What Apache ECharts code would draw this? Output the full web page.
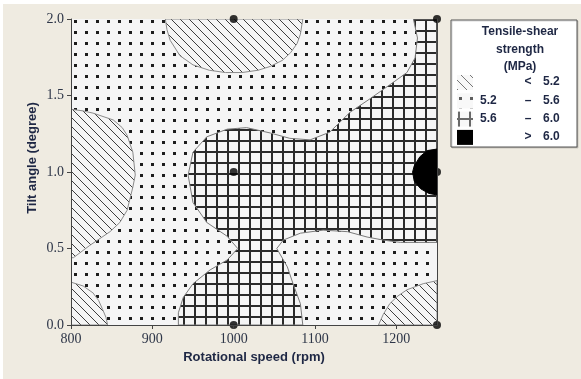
<!DOCTYPE html>
<html>
<head>
<meta charset="utf-8">
<title>Tensile-shear strength contour</title>
<script src="https://cdn.jsdelivr.net/npm/echarts@6/dist/echarts.min.js"></script>
<style>
    html, body { margin: 0; padding: 0; background: #ffffff; }
    #chart { position: absolute; left: 3px; top: 4px; width: 578px; height: 375px; background: #efebe1; }
</style>
</head>
<body>
<div id="chart"></div>
<script>
// design points of the experiment
const designSpeed = [1000, 1250, 1000, 1250, 1000, 1250];
const designTilt = [2.0, 2.0, 1.0, 1.0, 0.0, 0.0];

// contour regions, as [rpm, degree] boundary points
const domain = [[800, 0], [1250, 0], [1250, 2], [800, 2]];

const lowTop = [
    [916, 2.0], [918, 1.93], [922, 1.86], [934, 1.76], [950, 1.70], [970, 1.665],
    [990, 1.65], [1010, 1.65], [1030, 1.665], [1045, 1.69], [1060, 1.73],
    [1070, 1.78], [1078, 1.84], [1082, 1.90], [1085, 2.0]
];
const lowLeft = [
    [800, 1.41], [814, 1.40], [827, 1.385], [852, 1.34], [863, 1.29], [869, 1.24],
    [876, 1.13], [879, 0.98], [876, 0.90], [869, 0.75], [860, 0.67], [848, 0.61],
    [823, 0.52], [803, 0.44], [800, 0.44]
];
const lowBottomLeft = [
    [800, 0.28], [815, 0.255], [827, 0.21], [834, 0.16], [839, 0.10],
    [843, 0.05], [845, 0.0], [800, 0.0]
];
const lowBottomRight = [
    [1178, 0.0], [1184, 0.07], [1192, 0.14], [1202, 0.19], [1213, 0.23],
    [1233, 0.27], [1250, 0.29], [1250, 0.0]
];
const midHigh = [
    [1221, 2.0], [1226, 1.876], [1223, 1.745], [1213, 1.65], [1192, 1.57],
    [1168, 1.48], [1143, 1.39], [1118, 1.26], [1094, 1.21], [1069, 1.22],
    [1045, 1.255], [1016, 1.29], [992, 1.28], [967, 1.23], [950, 1.13],
    [944, 0.98], [950, 0.80], [967, 0.67], [992, 0.58], [1005, 0.50],
    [992, 0.425], [971, 0.36], [950, 0.27], [938, 0.18], [932, 0.08],
    [932, 0.0], [1085, 0.0], [1082, 0.14], [1073, 0.27], [1066, 0.38],
    [1053, 0.50], [1061, 0.555], [1082, 0.60], [1110, 0.62], [1140, 0.61],
    [1164, 0.575], [1184, 0.555], [1205, 0.54], [1250, 0.54], [1250, 2.0]
];
const high = [
    [1250, 1.15], [1238, 1.14], [1229, 1.10], [1222, 1.04], [1220, 1.0],
    [1222, 0.94], [1230, 0.89], [1240, 0.86], [1250, 0.85]
];

// legend rows
const legendLow = ['', '5.2', '5.6', ''];
const legendSep = ['<', '\u2013', '\u2013', '>'];
const legendHigh = ['5.2', '5.6', '6.0', '6.0'];
const legendFill = ['hatch', 'dots', 'grid', 'solid'];

const plotBg = '#f5f5f5';
const navy = '#1e2744';

function makePattern(kind) {
    const c = document.createElement('canvas');
    const s = kind === 'hatch' ? 9 : 11;
    c.width = s;
    c.height = s;
    const ctx = c.getContext('2d');
    ctx.fillStyle = plotBg;
    ctx.fillRect(0, 0, s, s);
    if (kind === 'dots') {
        ctx.fillStyle = '#1c1c1c';
        ctx.fillRect(5, 5, 3, 3);
    } else if (kind === 'grid') {
        ctx.fillStyle = '#2a2a2a';
        ctx.fillRect(4, 0, 2, s);
        ctx.fillRect(0, 4, s, 2);
    } else if (kind === 'hatch') {
        ctx.strokeStyle = '#3e3e3e';
        ctx.lineWidth = 1;
        [-s, 0, s].forEach(k => {
            ctx.beginPath();
            ctx.moveTo(k - 1, -1);
            ctx.lineTo(k + s + 1, s + 1);
            ctx.stroke();
        });
    }
    return { image: c, repeat: 'repeat' };
}

const fills = {
    hatch: makePattern('hatch'),
    dots: makePattern('dots'),
    grid: makePattern('grid'),
    solid: '#000000'
};

function regionSeries(points, fill, stroke, z) {
    return {
        type: 'custom',
        coordinateSystem: 'cartesian2d',
        clip: true,
        silent: true,
        z: z,
        data: points,
        encode: { x: 0, y: 1 },
        renderItem: function (params, api) {
            if (params.dataIndex !== 0) return;
            const pts = points.map(p => api.coord(p));
            return {
                type: 'polygon',
                shape: { points: pts },
                style: { fill: fill, stroke: stroke, lineWidth: stroke ? 1 : 0 }
            };
        }
    };
}

const chart = echarts.init(document.getElementById('chart'));

const legendGraphics = [
    {
        type: 'rect',
        shape: { x: 448, y: 16, width: 126, height: 127 },
        style: { fill: '#ffffff', stroke: '#555555', lineWidth: 1,
                 shadowColor: 'rgba(0,0,0,0.15)', shadowOffsetX: 1, shadowOffsetY: 1 }
    }
];
const legendFont = 'bold 12px "Liberation Sans", sans-serif';
['Tensile-shear', 'strength', '(MPa)'].forEach((t, i) => {
    legendGraphics.push({
        type: 'text', x: 517, y: 28 + i * 17.5,
        style: { text: t, font: legendFont, fill: navy,
                 textAlign: 'center', textVerticalAlign: 'middle' }
    });
});
legendFill.forEach((f, i) => {
    const y = 78 + i * 18.3;
    legendGraphics.push({
        type: 'rect',
        shape: { x: 454, y: y - 7, width: 16, height: 15 },
        style: { fill: fills[f], opacity: f === 'solid' ? 1 : 0.7 }
    });
    if (legendLow[i]) {
        legendGraphics.push({ type: 'text', x: 477, y: y,
            style: { text: legendLow[i], font: legendFont, fill: navy, textVerticalAlign: 'middle' } });
    }
    legendGraphics.push({ type: 'text', x: 525, y: y,
        style: { text: legendSep[i], font: legendFont, fill: navy, textAlign: 'center', textVerticalAlign: 'middle' } });
    legendGraphics.push({ type: 'text', x: 540, y: y,
        style: { text: legendHigh[i], font: legendFont, fill: navy, textVerticalAlign: 'middle' } });
});
legendGraphics.push({
    type: 'text', x: 29, y: 154, rotation: Math.PI / 2,
    style: { text: 'Tilt angle (degree)', font: 'bold 13px "Liberation Sans", sans-serif', fill: navy,
             textAlign: 'center', textVerticalAlign: 'middle' }
});

const tickLabel = { color: '#2e3648', fontFamily: 'Liberation Serif', fontSize: 14 };

chart.setOption({
    animation: false,
    grid: { left: 68, right: 144, top: 15, bottom: 54, show: true, backgroundColor: plotBg, borderWidth: 0 },
    xAxis: [
        {
            type: 'value', min: 800, max: 1250, interval: 100, z: 10,
            name: 'Rotational speed (rpm)', nameLocation: 'middle', nameGap: 26,
            nameTextStyle: { color: navy, fontFamily: 'Liberation Sans', fontWeight: 'bold', fontSize: 13 },
            axisLine: { lineStyle: { color: '#444444', width: 1 } },
            axisTick: { length: 4, lineStyle: { color: '#444444' } },
            axisLabel: Object.assign({ margin: 7, showMaxLabel: false, formatter: v => String(v) }, tickLabel),
            splitLine: { show: false }
        },
        {
            type: 'value', min: 800, max: 1250, position: 'top', z: 10,
            axisLine: { lineStyle: { color: '#444444', width: 1 } },
            axisTick: { show: false }, axisLabel: { show: false }, splitLine: { show: false }
        }
    ],
    yAxis: [
        {
            type: 'value', min: 0, max: 2, interval: 0.5, z: 10,
            axisLine: { show: true, lineStyle: { color: '#444444', width: 1 } },
            axisTick: { show: true, length: 4, lineStyle: { color: '#444444' } },
            axisLabel: Object.assign({ margin: 7, formatter: v => v.toFixed(1) }, tickLabel),
            splitLine: { show: false }
        },
        {
            type: 'value', min: 0, max: 2, position: 'right', z: 10,
            axisLine: { show: true, lineStyle: { color: '#444444', width: 1 } },
            axisTick: { show: false }, axisLabel: { show: false }, splitLine: { show: false }
        }
    ],
    graphic: legendGraphics,
    series: [
        regionSeries(domain, fills.dots, null, 1),
        regionSeries(midHigh, fills.grid, '#7a7a7a', 2),
        regionSeries(lowTop, fills.hatch, '#8a8a8a', 3),
        regionSeries(lowLeft, fills.hatch, '#8a8a8a', 3),
        regionSeries(lowBottomLeft, fills.hatch, '#8a8a8a', 3),
        regionSeries(lowBottomRight, fills.hatch, '#8a8a8a', 3),
        regionSeries(high, fills.solid, '#000000', 4),
        {
            type: 'scatter',
            z: 6,
            symbol: 'circle',
            symbolSize: 8,
            itemStyle: { color: '#000000' },
            data: designSpeed.map((s, i) => [s, designTilt[i]])
        }
    ]
});
</script>
</body>
</html>
